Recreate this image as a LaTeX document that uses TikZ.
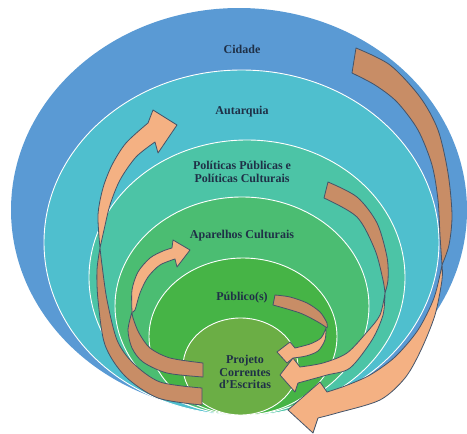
\documentclass[tikz,border=0pt]{standalone}
\usepackage{fontspec}
\setmainfont{Liberation Serif}
\definecolor{cidadecol}{HTML}{5A9AD4}
\definecolor{autarquiacol}{HTML}{4FBFCE}
\definecolor{politicascol}{HTML}{4CC4A6}
\definecolor{aparelhoscol}{HTML}{4BBD72}
\definecolor{publicocol}{HTML}{46B446}
\definecolor{projetocol}{HTML}{6BAE45}
\definecolor{textcol}{HTML}{1F3047}
\definecolor{bandfront}{HTML}{F4B183}
\definecolor{bandback}{HTML}{C88D66}
\definecolor{bandline}{HTML}{44546A}
\begin{document}
\begin{tikzpicture}[
        x=1pt, y=-1pt,
        ring/.style={draw=white, line width=0.9pt},
        ringtext/.style={font=\fontsize{12}{12.5}\selectfont\bfseries, text=textcol, align=center, inner sep=0pt},
        backband/.style={fill=bandback, draw=bandline, line width=0.8pt, line join=round},
        frontband/.style={fill=bandfront, draw=bandline, line width=0.8pt, line join=round}
    ]

    \useasboundingbox (0,0) rectangle (467,434);

    \fill[cidadecol] (239,210) ellipse [x radius=228, y radius=202];
    \filldraw[ring, fill=autarquiacol] (241.5,242.5) ellipse [x radius=197.5, y radius=172.5];
    \filldraw[ring, fill=politicascol] (247,277.5) ellipse [x radius=158, y radius=137.5];
    \filldraw[ring, fill=aparelhoscol] (242,306) ellipse [x radius=127, y radius=109];
    \filldraw[ring, fill=publicocol] (243,336.5) ellipse [x radius=94, y radius=78.5];
    \filldraw[ring, fill=projetocol] (240.5,366.5) ellipse [x radius=57.5, y radius=48.5];

    \node[ringtext] (cidade) at (242,49) {Cidade};
    \node[ringtext] (autarquia) at (242,112) {Autarquia};
    \node[ringtext] (politicas) at (242,172) {Políticas Públicas e\\Políticas Culturais};
    \node[ringtext] (aparelhos) at (242,236) {Aparelhos Culturais};
    \node[ringtext] (publico) at (242,298) {Público(s)};
    \node[ringtext] (projeto) at (245,372) {Projeto\\Correntes\\d'Escritas};

    % back halves
    \draw[backband] plot[smooth] coordinates {(356,48) (390,65) (420,97) (438,130) (448,173) (452,215) (449,245) (442,265)}
        -- plot[smooth] coordinates {(442,265) (440,235) (438,200) (432,165) (418,130) (397,102) (375,85) (352,73)} -- cycle;
    \draw[backband] plot[smooth] coordinates {(328,182) (357,197) (377,223) (387,257) (388,280) (385,293)}
        -- plot[smooth] coordinates {(385,293) (383,280) (375,250) (357,217) (324,198)} -- cycle;
    \draw[backband] plot[smooth] coordinates {(275,295) (290,297) (307,303) (320,312) (327,323) (327,328)}
        -- plot[smooth] coordinates {(327,328) (318,322) (300,313) (273,305)} -- cycle;
    \draw[backband] plot[smooth] coordinates {(202,388) (160,382) (133,363) (117,340) (107,300) (102,265) (100,248)}
        -- plot[smooth] coordinates {(100,248) (97,270) (98,300) (105,345) (125,376) (158,398) (202,405)} -- cycle;
    \draw[backband] plot[smooth] coordinates {(203,363) (170,358) (150,348) (139,333) (133,318) (132,312)}
        -- plot[smooth] coordinates {(132,312) (128,330) (132,348) (143,362) (167,373) (203,377)} -- cycle;

    % front halves
    \draw[frontband] plot[smooth] coordinates {(442,265) (434,298) (418,330) (395,357) (370,375) (345,386) (327,392)}
        -- (320,382) -- (288,410) -- (313,433) -- (318,418)
        -- plot[smooth] coordinates {(318,418) (337,413) (380,400) (405,378) (421,350) (435,315) (442,280) (442,265)} -- cycle;
    \draw[frontband] plot[smooth] coordinates {(385,293) (380,315) (367,332) (347,353) (323,363) (300,367)}
        -- (293,358) -- (280,375) -- (295,392) -- (298,383)
        -- plot[smooth] coordinates {(298,383) (327,375) (350,368) (372,340) (383,315) (385,293)} -- cycle;
    \draw[frontband] plot[smooth] coordinates {(326,328) (321,338) (310,344) (295,348)}
        -- (290,342) -- (277,352) -- (287,363) -- (293,358)
        -- plot[smooth] coordinates {(293,358) (306,356) (318,351) (325,340) (326,328)} -- cycle;
    \draw[frontband] plot[smooth] coordinates {(100,248) (98,215) (103,188) (112,165) (126,143) (148,123)}
        -- (153,110) -- (177,125) -- (158,153) -- (155,142)
        -- plot[smooth] coordinates {(155,142) (136,157) (120,180) (110,205) (104,230) (100,248)} -- cycle;
    \draw[frontband] plot[smooth] coordinates {(132,312) (132,290) (138,272) (150,258) (163,251) (172,248)}
        -- (173,240) -- (190,250) -- (177,267) -- (175,259)
        -- plot[smooth] coordinates {(175,259) (160,265) (148,277) (140,293) (135,310) (132,312)} -- cycle;
\end{tikzpicture}
\end{document}
